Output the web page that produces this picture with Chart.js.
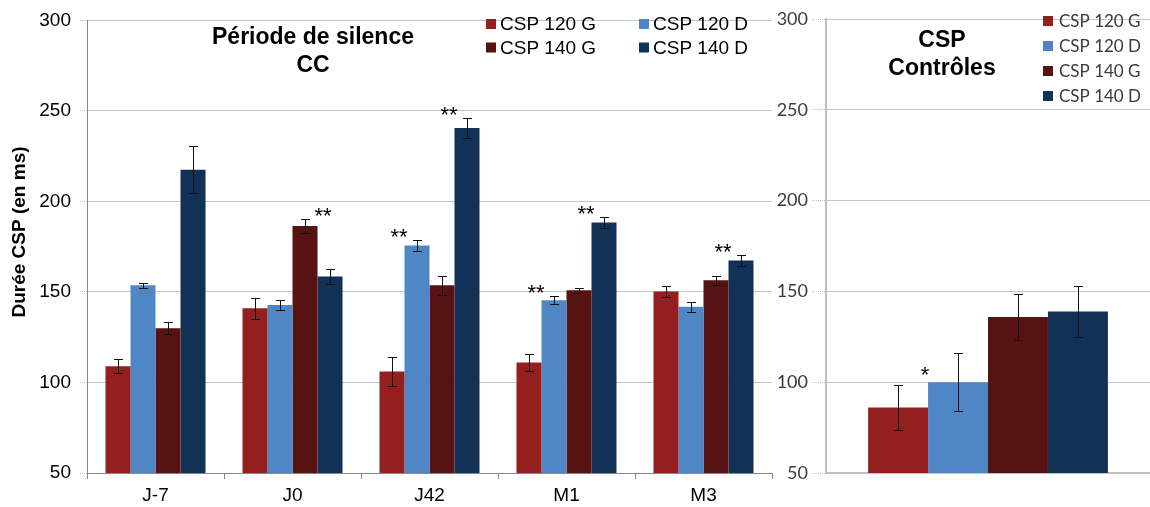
<!DOCTYPE html>
<html>
<head>
<meta charset="utf-8">
<script src="https://cdn.jsdelivr.net/npm/chart.js@4.4.0/dist/chart.umd.min.js"></script>
<style>
  body { margin: 0; background: #fff; }
  #wrap { position: relative; width: 1150px; height: 507px; }
  canvas { position: absolute; top: 0; }
  #left { left: 0; }
  #right { left: 775px; }
</style>
</head>
<body>
<div id="wrap">
  <canvas id="left" width="775" height="507"></canvas>
  <canvas id="right" width="375" height="507"></canvas>
</div>
<script>
const seriesNames = ['CSP 120 G', 'CSP 120 D', 'CSP 140 G', 'CSP 140 D'];
const seriesColors = ['#93201f', '#4f87c6', '#561312', '#113256'];

// left panel : période de silence CC
const periods = ['J-7', 'J0', 'J42', 'M1', 'M3'];
const csp120G = [109, 141, 106, 111, 150.2];
const csp120D = [153.7, 142.8, 175.6, 145.4, 141.8];
const csp140G = [130, 186.4, 153.7, 150.9, 156.4];
const csp140D = [217.5, 158.5, 240.5, 188.4, 167.4];
const err120G = [3.8, 5.9, 7.9, 4.6, 3.2];
const err120D = [1.5, 2.8, 3.0, 2.2, 2.7];
const err140G = [3.3, 4.0, 5.2, 1.3, 2.3];
const err140D = [13, 4, 5.5, 3.2, 3];
// [category, series, text, side]
const starsPeriods = [[1, 2, '**', 1], [2, 1, '**', -1], [2, 3, '**', -1], [3, 1, '**', -1], [3, 3, '**', -1], [4, 3, '**', -1]];

// right panel : contrôles
const controlLabels = [''];
const ctrl120G = [86];
const ctrl120D = [100];
const ctrl140G = [135.9];
const ctrl140D = [139];
const ctrlErr = [[12.5], [16], [12.7], [14]];
const starsControls = [[0, 0, '*', 1]];

const yTicks = [50, 100, 150, 200, 250, 300];

const overlay = {
  id: 'overlay',
  afterDatasetsDraw(chart, args, opts) {
    const ctx = chart.ctx;
    const ys = chart.scales.y;
    ctx.save();

    // error bars
    ctx.strokeStyle = '#111';
    ctx.lineWidth = 1;
    chart.data.datasets.forEach((ds, i) => {
      const meta = chart.getDatasetMeta(i);
      meta.data.forEach((bar, j) => {
        const v = ds.data[j], e = ds.errors[j];
        const x = Math.round(bar.x) + 0.5;
        const top = Math.round(ys.getPixelForValue(v + e)) + 0.5;
        const bot = Math.round(ys.getPixelForValue(v - e)) + 0.5;
        ctx.beginPath();
        ctx.moveTo(x, top); ctx.lineTo(x, bot);
        ctx.moveTo(x - 4.5, top); ctx.lineTo(x + 4.5, top);
        ctx.moveTo(x - 4.5, bot); ctx.lineTo(x + 4.5, bot);
        ctx.stroke();
      });
    });

    // significance stars
    ctx.fillStyle = '#000';
    ctx.font = opts.starFont;
    ctx.textAlign = 'center';
    ctx.textBaseline = 'alphabetic';
    opts.stars.forEach(([c, s, txt, side]) => {
      const ds = chart.data.datasets[s];
      const bar = chart.getDatasetMeta(s).data[c];
      const top = ys.getPixelForValue(ds.data[c] + ds.errors[c]);
      ctx.fillText(txt, bar.x + side * opts.starShift, top - opts.starLift + 10);
    });

    // title
    ctx.font = opts.titleFont;
    ctx.textBaseline = 'middle';
    opts.title.forEach((t, k) => {
      ctx.fillText(t, opts.titleX, opts.titleY + k * opts.titleLine);
    });

    // vertical axis title
    if (opts.yTitle) {
      ctx.save();
      ctx.translate(opts.yTitle.x, opts.yTitle.y);
      ctx.rotate(-Math.PI / 2);
      ctx.font = opts.yTitle.font;
      ctx.fillText(opts.yTitle.text, 0, 0);
      ctx.restore();
    }

    // legend
    const lg = opts.legend;
    ctx.font = lg.font;
    ctx.textAlign = 'left';
    chart.data.datasets.forEach((ds, i) => {
      const col = i % lg.cols, row = Math.floor(i / lg.cols);
      const bx = lg.x + col * lg.colW;
      const cy = lg.y + row * lg.rowH;
      ctx.fillStyle = ds.backgroundColor;
      ctx.fillRect(bx, cy - 5, 10, 10);
      ctx.fillStyle = lg.color;
      ctx.fillText(ds.label, bx + 10 + lg.gap, cy + 1);
    });
    ctx.restore();
  }
};

function makeDatasets(values, errors) {
  return seriesNames.map((name, i) => ({
    label: name,
    data: values[i],
    errors: errors[i],
    backgroundColor: seriesColors[i],
    borderWidth: 0,
    barPercentage: 1,
    categoryPercentage: 0.73
  }));
}

const gridStyle = {
  color: '#c4c4c4',
  borderDash: [1, 1],
  tickBorderDash: [1, 1]
};

new Chart(document.getElementById('left'), {
  type: 'bar',
  data: {
    labels: periods,
    datasets: makeDatasets([csp120G, csp120D, csp140G, csp140D], [err120G, err120D, err140G, err140D])
  },
  options: {
    responsive: false,
    animation: false,
    events: [],
    layout: { padding: { top: 19, right: 3, left: 0, bottom: 0 } },
    scales: {
      x: {
        grid: { display: true, drawOnChartArea: false, offset: true, tickLength: 6, color: '#888' },
        border: { color: '#888' },
        ticks: { color: '#000', font: { family: 'Liberation Sans, Arial', size: 19 }, padding: 5 },
        afterFit: s => { s.height = 34; }
      },
      y: {
        min: 50, max: 300,
        afterBuildTicks: s => { s.ticks = yTicks.map(v => ({ value: v })); },
        grid: Object.assign({ tickLength: 7 }, gridStyle),
        border: { color: '#888' },
        ticks: { color: '#000', font: { family: 'Liberation Sans, Arial', size: 19 }, padding: 9 },
        afterFit: s => { s.width = 87; }
      }
    },
    plugins: {
      legend: { display: false },
      tooltip: { enabled: false },
      overlay: {
        stars: starsPeriods,
        starFont: '22px "Liberation Sans", Arial',
        starShift: 18,
        starLift: 6,
        title: ['Période de silence', 'CC'],
        titleFont: 'bold 23px "Liberation Sans", Arial',
        titleX: 313, titleY: 38, titleLine: 28,
        yTitle: { text: 'Durée CSP (en ms)', x: 20, y: 232, font: 'bold 19px "Liberation Sans", Arial' },
        legend: { x: 486, y: 24, cols: 2, colW: 153, rowH: 23.5, gap: 4, color: '#000', font: '19px "Liberation Sans", Arial' }
      }
    }
  },
  plugins: [overlay]
});

const ctrlSets = makeDatasets([ctrl120G, ctrl120D, ctrl140G, ctrl140D], ctrlErr);
ctrlSets.forEach(d => { d.categoryPercentage = 0.74; });

new Chart(document.getElementById('right'), {
  type: 'bar',
  data: { labels: controlLabels, datasets: ctrlSets },
  options: {
    responsive: false,
    animation: false,
    events: [],
    layout: { padding: { top: 19, right: 0, left: 0, bottom: 0 } },
    scales: {
      x: {
        grid: { display: false },
        border: { color: '#c0c0c0', width: 2 },
        ticks: { display: false },
        afterFit: s => { s.height = 34; }
      },
      y: {
        min: 50, max: 300,
        afterBuildTicks: s => { s.ticks = yTicks.map(v => ({ value: v })); },
        grid: Object.assign({ tickLength: 14 }, gridStyle),
        border: { color: '#c0c0c0', width: 2 },
        ticks: { color: '#3a3a3a', font: { family: 'Lato', size: 18 }, padding: 4 },
        afterFit: s => { s.width = 51; }
      }
    },
    plugins: {
      legend: { display: false },
      tooltip: { enabled: false },
      overlay: {
        stars: starsControls,
        starFont: '22px "Liberation Sans", Arial',
        starShift: 27,
        starLift: 13,
        title: ['CSP', 'Contrôles'],
        titleFont: 'bold 23px "Liberation Sans", Arial',
        titleX: 167, titleY: 41, titleLine: 28,
        legend: { x: 268, y: 21, cols: 1, colW: 0, rowH: 25, gap: 6, color: '#3a3a3a', font: '17px Lato' }
      }
    }
  },
  plugins: [overlay]
});
</script>
</body>
</html>
